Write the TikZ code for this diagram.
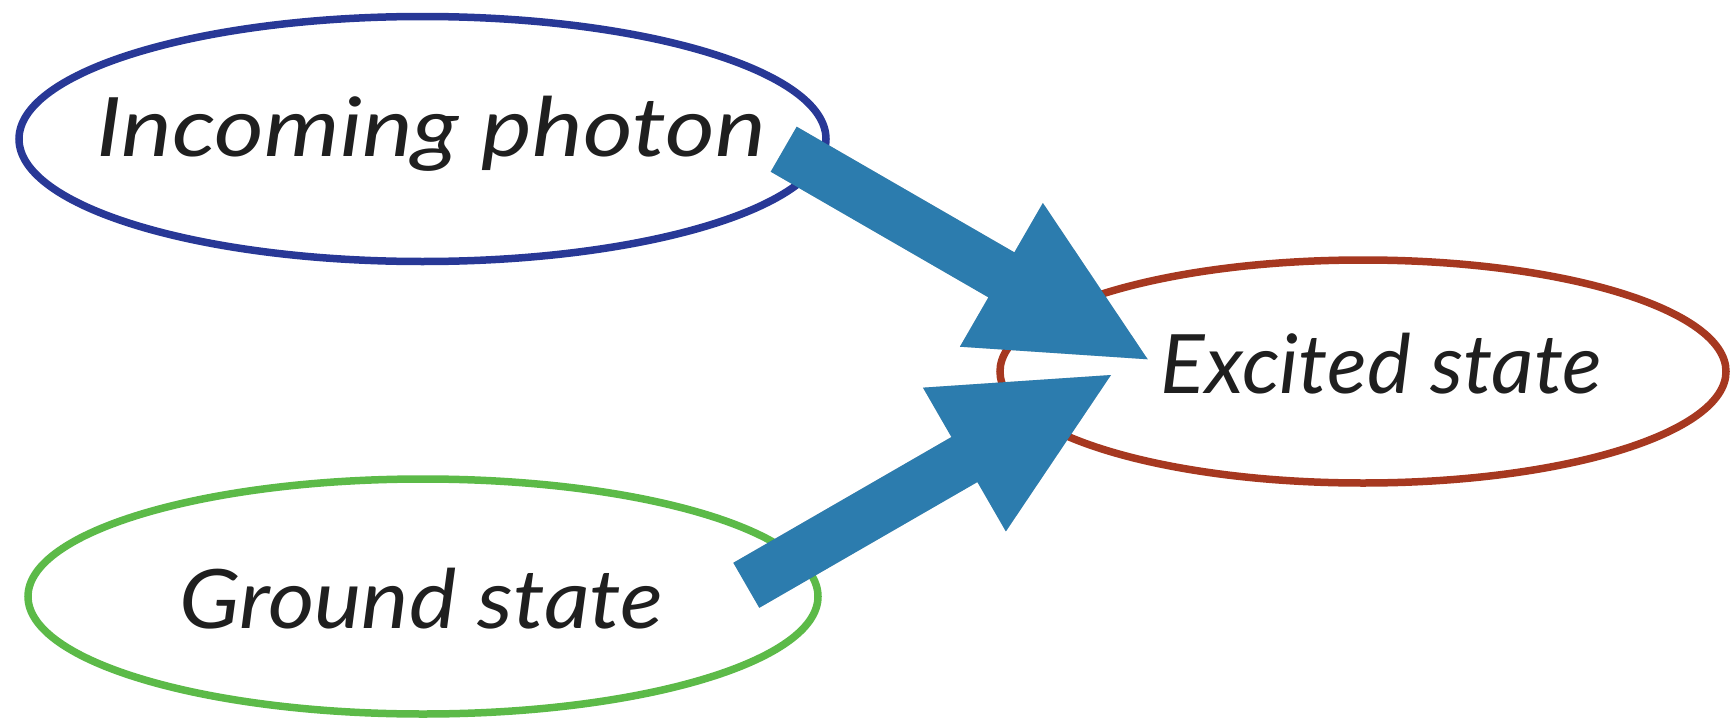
\documentclass[tikz,border=0pt]{standalone}
\usepackage{fontspec}
\setmainfont{Lato}
\usetikzlibrary{shapes.geometric,calc}

\definecolor{photonblue}{RGB}{40,56,150}
\definecolor{groundgreen}{RGB}{92,186,72}
\definecolor{excitedred}{RGB}{166,56,32}
\definecolor{arrowblue}{RGB}{44,124,174}

\tikzset{
  state/.style={ellipse, draw, line width=7.5pt, inner sep=0pt, fill=none},
  label text/.style={font=\fontsize{82}{96}\selectfont\itshape, text=black!88, inner sep=0pt, anchor=base},
  arrow body/.style={fill=arrowblue},
  arrow shadow/.style={fill=black, opacity=0.18},
}

% widen a label horizontally
\newcommand\hstretch[2]{\scalebox{#1}[1]{#2}}

% block arrow from #1 (tail) to #2 (tip): shaft half-width 26, head half-width 83
\newcommand\blockarrow[3]{%
  \coordinate (#3-m) at ($(#1)!0.598!(#2)$);
  \foreach \sx/\sy/\sty in {3/3/arrow shadow, 0/0/arrow body}{%
    \fill[\sty, shift={(\sx,\sy)}]
      ($(#1)!26pt!90:(#2)$) --
      ($(#3-m)!26pt!90:(#2)$) --
      ($(#3-m)!83pt!90:(#2)$) --
      (#2) --
      ($(#3-m)!83pt!-90:(#2)$) --
      ($(#3-m)!26pt!-90:(#2)$) --
      ($(#1)!26pt!-90:(#2)$) -- cycle;
  }%
}

\begin{document}
\begin{tikzpicture}[x=1pt, y=-1pt]
  \useasboundingbox (0,0) rectangle (1730,720);

  % the three states
  \node[state, draw=photonblue, minimum width=807pt, minimum height=245pt] (photon) at (422.5,139) {};
  \node[state, draw=groundgreen, minimum width=790pt, minimum height=235pt] (ground) at (423,596.5) {};
  \node[state, draw=excitedred, minimum width=726pt, minimum height=223pt] (excited) at (1363,371.5) {};

  \node[label text] (photontxt) at (431,156) {\hstretch{1.17}{Incoming photon}};
  \node[label text] (groundtxt) at (421,628) {\hstretch{1.09}{Ground state}};
  \node[label text] (excitedtxt) at (1381.5,393) {\hstretch{1.01}{Excited state}};

  % transitions into the excited state
  \coordinate (a1) at (783.7,149.2);
  \coordinate (b1) at (1147.7,359.3);
  \coordinate (a2) at (746.3,585.3);
  \coordinate (b2) at (1111,375);
  \blockarrow{a1}{b1}{up}
  \blockarrow{a2}{b2}{low}
\end{tikzpicture}
\end{document}
